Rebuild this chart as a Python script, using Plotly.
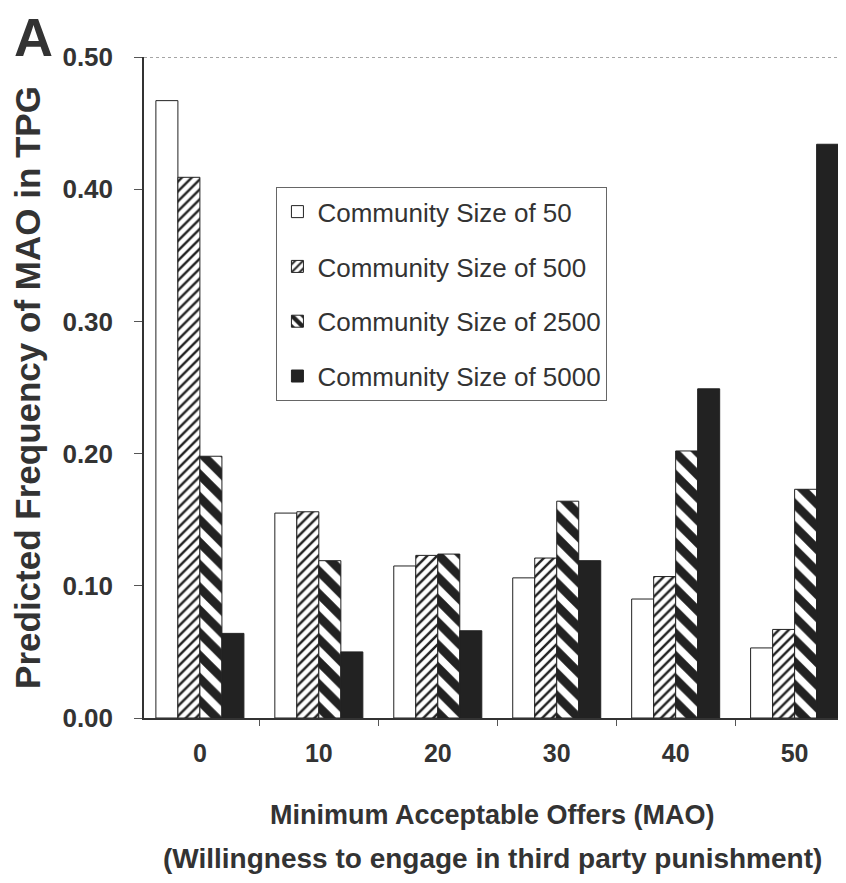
import plotly.graph_objects as go

mao = ["0", "10", "20", "30", "40", "50"]
series_names = ["Community Size of 50", "Community Size of 500",
                "Community Size of 2500", "Community Size of 5000"]
size_50 = [0.467, 0.155, 0.115, 0.106, 0.090, 0.053]
size_500 = [0.409, 0.156, 0.123, 0.121, 0.107, 0.067]
size_2500 = [0.198, 0.119, 0.124, 0.164, 0.202, 0.173]
size_5000 = [0.064, 0.050, 0.066, 0.119, 0.249, 0.434]
y_ticks = [0.0, 0.1, 0.2, 0.3, 0.4, 0.5]
y_tick_text = ["0.00", "0.10", "0.20", "0.30", "0.40", "0.50"]

FONT = "Liberation Sans, Arial, sans-serif"
TXT = "#333333"

styles = [
    dict(color="white", pattern=dict(shape="")),
    dict(color="white", pattern=dict(shape="/", size=7, solidity=0.35,
                                     fgcolor="#222222", bgcolor="white", fillmode="replace")),
    dict(color="white", pattern=dict(shape="\\", size=16, solidity=0.55,
                                     fgcolor="#222222", bgcolor="white", fillmode="replace")),
    dict(color="#222222", pattern=dict(shape="")),
]

fig = go.Figure()
for name, vals, st in zip(series_names, [size_50, size_500, size_2500, size_5000], styles):
    fig.add_trace(go.Bar(
        x=mao, y=vals, name=name, legendgroup=name,
        marker=dict(color=st["color"], pattern=st["pattern"],
                    line=dict(color="#222222", width=1)),
    ))

fig.update_layout(
    width=846, height=883,
    margin=dict(l=136, r=13, t=49, b=173, autoexpand=False),
    paper_bgcolor="white", plot_bgcolor="white",
    barmode="group", bargap=0.26, bargroupgap=0.0,
    font=dict(family=FONT, color=TXT),
    showlegend=True,
    legend=dict(
        x=0.19, y=0.803, xanchor="left", yanchor="top",
        bgcolor="white", bordercolor="#666666", borderwidth=1,
        font=dict(family=FONT, size=26, color=TXT),
        tracegroupgap=18, traceorder="grouped",
        entrywidth=300, entrywidthmode="pixels",
    ),
    xaxis=dict(
        type="category", range=[-0.47, 5.39], automargin=False,
        showline=True, linecolor="#333333", linewidth=1.5,
        ticks="outside", tickson="boundaries", ticklen=6, tickcolor="#555555",
        tickfont=dict(family=FONT, size=25, color=TXT, weight="bold"),
        ticklabelstandoff=12,
        showgrid=False, zeroline=False,
    ),
    yaxis=dict(
        range=[0, 0.5], tickvals=y_ticks, ticktext=y_tick_text, automargin=False,
        showline=True, linecolor="#333333", linewidth=1.5,
        ticks="outside", ticklen=8, tickcolor="#555555",
        tickfont=dict(family=FONT, size=26, color=TXT, weight="bold"),
        ticklabelstandoff=16,
        showgrid=False, zeroline=False,
        title=dict(text="Predicted Frequency of MAO in TPG",
                   font=dict(family=FONT, size=35, color=TXT, weight="bold"),
                   standoff=16),
    ),
)

# dotted top border
fig.add_shape(type="line", xref="paper", yref="y", x0=0, x1=1.03, y0=0.5, y1=0.5,
              line=dict(color="#888888", width=1.5, dash="dot"))

fig.add_annotation(text="Minimum Acceptable Offers (MAO)", xref="paper", yref="paper",
                   x=0.5, y=-0.147, xanchor="center", yanchor="middle", showarrow=False,
                   font=dict(family=FONT, size=27, color=TXT, weight="bold"))
fig.add_annotation(text="(Willingness to engage in third party punishment)", xref="paper", yref="paper",
                   x=0.5, y=-0.212, xanchor="center", yanchor="middle", showarrow=False,
                   font=dict(family=FONT, size=28, color=TXT, weight="bold"))
fig.add_annotation(text="A", xref="paper", yref="paper",
                   x=-0.158, y=1.03, xanchor="center", yanchor="middle", showarrow=False,
                   font=dict(family=FONT, size=54, color=TXT, weight="bold"))

fig.write_html("out.html")
